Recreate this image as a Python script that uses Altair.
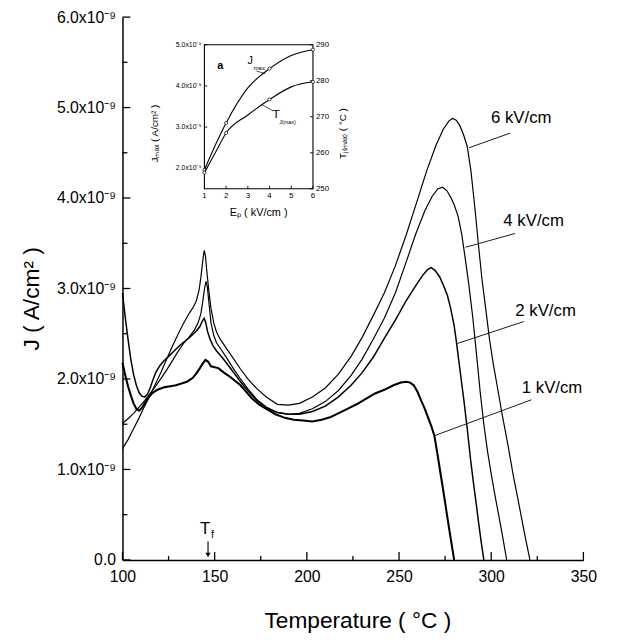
import altair as alt
import pandas as pd

# ---------------- main curves (J in units of 1e-9 A/cm^2) ----------------
T_6 = [100,103,106,109,112,115,118,121,124,127,130,133,136,138,140,141.5,142.5,143.5,144.3,145,145.8,146.8,148,149.5,151,153,156,160,164,168,173,178,184,190,196,203,210,217,224,230,236,242,248,254,260,265,270,274,277,279,281,283,285,287,289,291,293,295,297,299,301,303,306,309,312,315,318,321]
J_6 = [1.23,1.33,1.45,1.57,1.70,1.82,1.95,2.08,2.22,2.36,2.49,2.61,2.72,2.78,2.86,2.98,3.12,3.30,3.42,3.36,3.18,2.98,2.78,2.62,2.52,2.44,2.35,2.23,2.11,2.00,1.89,1.80,1.72,1.71,1.73,1.80,1.90,2.05,2.25,2.46,2.70,2.95,3.25,3.60,3.98,4.30,4.58,4.76,4.85,4.88,4.86,4.80,4.70,4.57,4.30,3.92,3.50,3.10,2.78,2.45,2.18,1.95,1.60,1.28,0.93,0.62,0.30,0.0]

T_4 = [100,103,106,109,112,115,118,121,124,127,130,133,136,139,141,142.5,143.5,144.5,145.3,146,147,148,149.5,151,153,156,160,164,168,173,178,184,190,196,203,210,217,224,230,236,242,248,254,259,264,268,271,273.6,276,278,280,282,284,286,288,290,292,294,296,298,300,302,304,306,308.4]
J_4 = [1.51,1.56,1.62,1.69,1.76,1.84,1.92,2.01,2.10,2.20,2.30,2.39,2.46,2.54,2.62,2.72,2.85,3.00,3.08,3.02,2.82,2.62,2.48,2.40,2.34,2.25,2.12,2.00,1.89,1.77,1.69,1.63,1.61,1.62,1.67,1.75,1.87,2.04,2.22,2.44,2.67,2.95,3.30,3.60,3.86,4.02,4.10,4.12,4.08,4.01,3.92,3.80,3.60,3.32,3.02,2.68,2.28,1.86,1.50,1.20,0.95,0.72,0.50,0.28,0.0]

T_2 = [100,101.5,103,104.5,106,107.5,109,110.5,112,113.5,115,116.5,118,120,122,125,128,131,134,137,140,142,143.3,144.3,145.2,146.2,147.5,149,151,154,157,160,164,168,173,178,184,190,196,203,210,217,224,230,236,242,248,254,259,263,265.5,267.4,269.5,272,274,276.3,278,279.9,281.2,282.5,284,285.2,287,288.8,290.5,292,293.3,294.7,296]
J_2 = [2.95,2.68,2.44,2.22,2.05,1.93,1.85,1.81,1.80,1.83,1.90,1.99,2.07,2.14,2.19,2.25,2.31,2.37,2.42,2.47,2.53,2.58,2.64,2.67,2.62,2.52,2.44,2.37,2.31,2.24,2.16,2.08,1.97,1.87,1.76,1.68,1.63,1.61,1.61,1.64,1.70,1.80,1.93,2.07,2.24,2.45,2.65,2.87,3.03,3.15,3.21,3.23,3.20,3.13,3.04,2.92,2.78,2.59,2.40,2.19,1.95,1.76,1.45,1.11,0.83,0.60,0.39,0.18,0.0]

T_1 = [100,101.5,103,104.5,106,107.5,109,110.5,112,114,116,118,120,123,126,129,132,135,138,140,142,143.5,145,146.5,148,150,152,155,158,161,164,167,170,174,178,183,188,193,198,203,208,213,217,222,227,232,237,242,247,251,254,256,258,260,262,264,265.6,267.5,269.2,271,272.7,274.5,276.3,278,279.9]
J_1 = [2.18,2.04,1.92,1.82,1.73,1.67,1.65,1.68,1.73,1.79,1.84,1.87,1.89,1.91,1.92,1.93,1.95,1.97,2.01,2.06,2.12,2.17,2.21,2.19,2.14,2.13,2.12,2.07,2.03,1.98,1.93,1.86,1.79,1.72,1.67,1.61,1.57,1.55,1.54,1.53,1.55,1.58,1.62,1.67,1.72,1.78,1.84,1.88,1.93,1.96,1.97,1.96,1.93,1.86,1.76,1.67,1.58,1.48,1.37,1.15,0.93,0.70,0.46,0.24,0.0]

fields = ["6 kV/cm", "4 kV/cm", "2 kV/cm", "1 kV/cm"]
widths = [1.2, 1.2, 1.5, 2.1]

# curve labels and leader lines (data coordinates)
lab_T = [316.3, 323.0, 329.5, 333.0]
lab_J = [4.88, 3.74, 2.75, 1.90]
lead_T1 = [287.9, 286.1, 281.6, 269.2]
lead_J1 = [4.555, 3.456, 2.392, 1.373]
lead_T2 = [310.2, 312.9, 317.7, 321.8]
lead_J2 = [4.717, 3.608, 2.635, 1.770]

# axis ticks
x_major = [100, 150, 200, 250, 300, 350]
x_minor = [125, 175, 225, 275, 325]
y_major = [0, 1, 2, 3, 4, 5, 6]
y_minor = [0.5, 1.5, 2.5, 3.5, 4.5, 5.5]

# T_f marker
Tf_T = 146.4

# ---------------- inset ----------------
E_line = [1, 1.5, 2, 3, 4, 5, 6]
Jmax_line = [1.96, 2.56, 3.10, 3.95, 4.42, 4.74, 4.88]
Tmax_line = [254.5, 260.0, 265.5, 270.5, 274.8, 278.3, 279.7]
E_pts = [1, 2, 4, 6]
Jmax_pts = [1.96, 3.10, 4.42, 4.88]
Tmax_pts = [254.5, 265.5, 274.8, 279.7]
E_ticks = [1, 2, 3, 4, 5, 6]
Jin_ticks = [2.0, 3.0, 4.0, 5.0]
Jin_dom = [1.5, 5.0]
Tin_ticks = [250, 260, 270, 280, 290]

FONT = "Liberation Sans"
W, H = 467, 550
IX0, IX1 = 83, 193      # inset x pixel range inside plot
IYB, IYT = 174, 28      # inset y pixel range inside plot

# ---------------- encodings ----------------
xaxis = alt.Axis(values=x_major, ticks=False, grid=False, domainColor="black", domainWidth=1.5,
                 labelFont=FONT, labelFontSize=16, labelColor="black", labelPadding=9,
                 labelFlush=False, labelOverlap=False,
                 title="Temperature ( °C )", titleFont=FONT, titleFontSize=23,
                 titleFontWeight="normal", titleColor="black", titleBaseline="top",
                 titleY=50, titleX=238)
yaxis = alt.Axis(values=y_major, ticks=False, grid=False, domainColor="black", domainWidth=1.5,
                 labelExpr="datum.value == 0 ? '0.0' : format(datum.value, '.1f') + 'x10⁻⁹'",
                 labelFont=FONT, labelFontSize=16, labelColor="black", labelPadding=7,
                 labelFlush=False, labelOverlap=False,
                 title="J ( A/cm² )", titleFont=FONT, titleFontSize=23, titleFontWeight="normal",
                 titleColor="black", titleAngle=270, titleAlign="center", titleBaseline="middle",
                 titleX=-92, titleY=285)
xs = alt.Scale(domain=[100, 350], nice=False, zero=False)
ys = alt.Scale(domain=[0, 6], nice=False, zero=False)

def X(f="T"):
    return alt.X(f + ":Q", scale=xs, axis=xaxis)

def Y(f="J"):
    return alt.Y(f + ":Q", scale=ys, axis=yaxis)

layers = []
for name, T, J, w in zip(fields, [T_6, T_4, T_2, T_1], [J_6, J_4, J_2, J_1], widths):
    df = pd.DataFrame({"T": T, "J": J, "i": range(len(T))})
    layers.append(alt.Chart(df).mark_line(color="black", strokeWidth=w).encode(
        x=X(), y=Y(), order="i:Q"))

# ticks
layers.append(alt.Chart(pd.DataFrame({"T": x_major})).mark_rule(color="black", strokeWidth=1.3).encode(
    x=X(), y=alt.value(H), y2=alt.value(H - 8)))
layers.append(alt.Chart(pd.DataFrame({"T": x_minor})).mark_rule(color="black", strokeWidth=1.3).encode(
    x=X(), y=alt.value(H), y2=alt.value(H - 4)))
layers.append(alt.Chart(pd.DataFrame({"J": y_major})).mark_rule(color="black", strokeWidth=1.3).encode(
    y=Y(), x=alt.value(0), x2=alt.value(8)))
layers.append(alt.Chart(pd.DataFrame({"J": y_minor})).mark_rule(color="black", strokeWidth=1.3).encode(
    y=Y(), x=alt.value(0), x2=alt.value(5)))

# curve labels + leaders
df_lab = pd.DataFrame({"T": lab_T, "J": lab_J, "t": fields})
layers.append(alt.Chart(df_lab).mark_text(font=FONT, fontSize=17, color="black", align="center",
                                         baseline="middle").encode(x=X(), y=Y(), text="t:N"))
df_lead = pd.DataFrame({"T": lead_T1, "J": lead_J1, "T2": lead_T2, "J2": lead_J2})
layers.append(alt.Chart(df_lead).mark_rule(color="black", strokeWidth=0.9).encode(
    x=X(), y=Y(), x2="T2:Q", y2="J2:Q"))

# T_f annotation
df_tf = pd.DataFrame({"T": [Tf_T], "J": [0.0]})
layers.append(alt.Chart(df_tf).mark_text(text="T", font=FONT, fontSize=17, color="black",
                                        align="center", baseline="alphabetic", dx=-3, dy=-26).encode(
    x=X(), y=Y()))
layers.append(alt.Chart(df_tf).mark_text(text="f", font=FONT, fontSize=11, color="black",
                                        align="left", baseline="alphabetic", dx=3, dy=-22).encode(
    x=X(), y=Y()))
layers.append(alt.Chart(df_tf).mark_rule(color="black", strokeWidth=1.1).encode(
    x=X(), y=alt.value(H - 19), y2=alt.value(H - 5)))
layers.append(alt.Chart(df_tf).mark_point(shape="triangle-down", filled=True, color="black",
                                         size=28, opacity=1).encode(x=X(), y=alt.value(H - 5)))

main = alt.layer(*layers)

# ---------------- inset ----------------
ixs = alt.Scale(domain=[E_ticks[0], E_ticks[-1]], range=[IX0, IX1], nice=False, zero=False)
iys = alt.Scale(domain=Jin_dom, range=[IYB, IYT], nice=False, zero=False)
its = alt.Scale(domain=[Tin_ticks[0], Tin_ticks[-1]], range=[IYB, IYT], nice=False, zero=False)

def EX(f="E"):
    return alt.X(f + ":Q", scale=ixs, axis=None)

def JY(f="Jm"):
    return alt.Y(f + ":Q", scale=iys, axis=None)

def TY(f="Tm"):
    return alt.Y(f + ":Q", scale=its, axis=None)

one = pd.DataFrame({"k": [0]})
jl = []
df_frame = pd.DataFrame({"E": [E_ticks[0]], "E2": [E_ticks[-1]], "Jm": [Jin_dom[0]], "Jm2": [Jin_dom[1]]})
jl.append(alt.Chart(df_frame).mark_rect(fill="white", stroke="black", strokeWidth=1.1).encode(
    x=EX(), x2="E2:Q", y=JY(), y2="Jm2:Q"))
jl.append(alt.Chart(pd.DataFrame({"E": E_ticks})).mark_rule(color="black", strokeWidth=0.9).encode(
    x=EX(), y=alt.value(IYB), y2=alt.value(IYB - 3)))
jl.append(alt.Chart(pd.DataFrame({"E": E_ticks, "t": [str(e) for e in E_ticks]})).mark_text(
    font=FONT, fontSize=8, color="black", baseline="middle").encode(
    x=EX(), y=alt.value(IYB + 7), text="t:N"))
jl.append(alt.Chart(pd.DataFrame({"Jm": Jin_ticks})).mark_rule(color="black", strokeWidth=0.9).encode(
    y=JY(), x=alt.value(IX0), x2=alt.value(IX0 + 3)))
jl.append(alt.Chart(pd.DataFrame({"Jm": Jin_ticks, "t": ["%.1fx10⁻⁹" % v for v in Jin_ticks]})).mark_text(
    font=FONT, fontSize=7, color="black", align="right", baseline="middle").encode(
    y=JY(), x=alt.value(IX0 - 3), text="t:N"))
jl.append(alt.Chart(pd.DataFrame({"E": E_line, "Jm": Jmax_line})).mark_line(
    color="black", strokeWidth=1.1, interpolate="monotone").encode(x=EX(), y=JY()))
jl.append(alt.Chart(pd.DataFrame({"E": E_pts, "Jm": Jmax_pts})).mark_point(
    shape="circle", size=10, filled=True, fill="white", stroke="black", strokeWidth=0.7, opacity=1).encode(
    x=EX(), y=JY()))
# inset annotations (inset data coordinates)
jl.append(alt.Chart(pd.DataFrame({"E": [1.73], "Jm": [4.48]})).mark_text(
    text="a", font=FONT, fontSize=11, fontWeight="bold", color="black").encode(x=EX(), y=JY()))
jl.append(alt.Chart(pd.DataFrame({"E": [3.11], "Jm": [4.60]})).mark_text(
    text="J", font=FONT, fontSize=11, color="black").encode(x=EX(), y=JY()))
jl.append(alt.Chart(pd.DataFrame({"E": [3.27], "Jm": [4.43]})).mark_text(
    text="max", font=FONT, fontSize=6, color="black", align="left").encode(x=EX(), y=JY()))
jl.append(alt.Chart(pd.DataFrame({"E": [3.40], "Jm": [4.36], "E2": [3.80], "Jm2": [4.30]})).mark_rule(
    color="black", strokeWidth=0.7).encode(x=EX(), y=JY(), x2="E2:Q", y2="Jm2:Q"))
# inset axis titles
jl.append(alt.Chart(one).mark_text(text="Jₘₐₓ ( A/cm² )", font=FONT, fontSize=10, color="black",
                                  angle=270).encode(x=alt.value(33), y=alt.value(118)))
jl.append(alt.Chart(one).mark_text(text="Eₚ ( kV/cm )", font=FONT, fontSize=11, color="black").encode(
    x=alt.value(138), y=alt.value(199)))
jl.append(alt.Chart(one).mark_text(text="Tⱼ₍ₘₐₓ₎ ( °C )", font=FONT, fontSize=10, color="black",
                                  angle=270).encode(x=alt.value(223), y=alt.value(118)))

tl = []
tl.append(alt.Chart(pd.DataFrame({"Tm": Tin_ticks})).mark_rule(color="black", strokeWidth=0.9).encode(
    y=TY(), x=alt.value(IX1), x2=alt.value(IX1 - 3)))
tl.append(alt.Chart(pd.DataFrame({"Tm": Tin_ticks, "t": [str(v) for v in Tin_ticks]})).mark_text(
    font=FONT, fontSize=8, color="black", align="left", baseline="middle").encode(
    y=TY(), x=alt.value(IX1 + 3), text="t:N"))
tl.append(alt.Chart(pd.DataFrame({"E": E_line, "Tm": Tmax_line})).mark_line(
    color="black", strokeWidth=1.1, interpolate="monotone").encode(x=EX(), y=TY()))
tl.append(alt.Chart(pd.DataFrame({"E": E_pts, "Tm": Tmax_pts})).mark_point(
    shape="circle", size=10, filled=True, fill="white", stroke="black", strokeWidth=0.7, opacity=1).encode(
    x=EX(), y=TY()))
tl.append(alt.Chart(pd.DataFrame({"E": [4.30], "Tm": [270.8]})).mark_text(
    text="T", font=FONT, fontSize=12, color="black").encode(x=EX(), y=TY()))
tl.append(alt.Chart(pd.DataFrame({"E": [4.45], "Tm": [268.6]})).mark_text(
    text="J(max)", font=FONT, fontSize=5.5, color="black", align="left").encode(x=EX(), y=TY()))
tl.append(alt.Chart(pd.DataFrame({"E": [3.64], "Tm": [273.4], "E2": [4.17], "Tm2": [271.6]})).mark_rule(
    color="black", strokeWidth=0.7).encode(x=EX(), y=TY(), x2="E2:Q", y2="Tm2:Q"))

inset = alt.layer(alt.layer(*jl), alt.layer(*tl)).resolve_scale(y="independent")

chart = alt.layer(main, inset).resolve_scale(x="independent", y="independent").properties(
    width=W, height=H,
    padding={"left": 116, "top": 5, "right": 30, "bottom": 82},
    autosize=alt.AutoSizeParams(type="none"),
    background="white",
).configure_view(stroke=None)

chart.save("out.html", embed_options={"renderer": "svg", "actions": False})
